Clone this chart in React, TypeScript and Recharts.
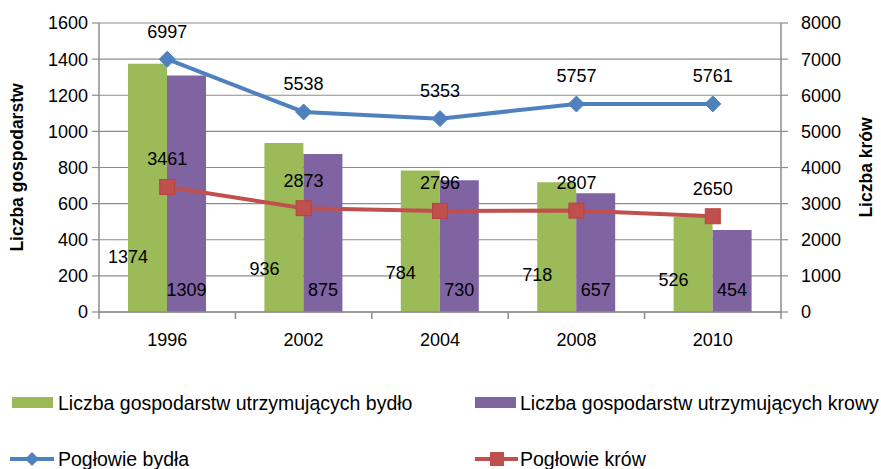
import React from 'react';
import {
  ComposedChart, Bar, Line, XAxis, YAxis, CartesianGrid, LabelList,
} from 'recharts';

const categories = ['1996', '2002', '2004', '2008', '2010'];
const farmsCattle = [1374, 936, 784, 718, 526];
const farmsCows = [1309, 875, 730, 657, 454];
const cattleHerd = [6997, 5538, 5353, 5757, 5761];
const cowHerd = [3461, 2873, 2796, 2807, 2650];
const leftTicks = [0, 200, 400, 600, 800, 1000, 1200, 1400, 1600];
const rightTicks = [0, 1000, 2000, 3000, 4000, 5000, 6000, 7000, 8000];

const seriesNames = [
  'Liczba gospodarstw utrzymujących bydło',
  'Liczba gospodarstw utrzymujących krowy',
  'Pogłowie bydła',
  'Pogłowie krów',
];
const leftTitle = 'Liczba gospodarstw';
const rightTitle = 'Liczba krów';

const data = categories.map((c, i) => ({
  year: c,
  farmsCattle: farmsCattle[i],
  farmsCows: farmsCows[i],
  cattleHerd: cattleHerd[i],
  cowHerd: cowHerd[i],
}));

const W = 881;
const H = 469;
const FONT = '"Liberation Sans", Arial, sans-serif';
const GREEN = '#9BBB59';
const PURPLE = '#8064A2';
const BLUE = '#4F81BD';
const RED = '#C0504D';
const GRAY = '#8C8C8C';
const PLOT_W = 682;
const HALF_BAND = PLOT_W / categories.length / 2;

const XTick = (props: any) => {
  const { x, y, payload, index } = props;
  return (
    <g>
      <line x1={x - HALF_BAND} x2={x - HALF_BAND} y1={y} y2={y + 7} stroke={GRAY} strokeWidth={1.5} />
      {index === categories.length - 1 && (
        <line x1={x + HALF_BAND} x2={x + HALF_BAND} y1={y} y2={y + 7} stroke={GRAY} strokeWidth={1.5} />
      )}
      <text x={x} y={y + 28} dy="0.35em" textAnchor="middle" fontFamily={FONT} fontSize={18} fill="#000">
        {payload.value}
      </text>
    </g>
  );
};

const Diamond = (props: any) => {
  const { cx, cy } = props;
  if (cx == null || cy == null) return null;
  const r = 8;
  return <polygon points={`${cx},${cy - r} ${cx + r},${cy} ${cx},${cy + r} ${cx - r},${cy}`} fill={BLUE} stroke={BLUE} strokeWidth={1} />;
};

const Square = (props: any) => {
  const { cx, cy } = props;
  if (cx == null || cy == null) return null;
  const s = 7.5;
  return <rect x={cx - s} y={cy - s} width={2 * s} height={2 * s} fill={RED} stroke="#B8433F" strokeWidth={1} />;
};

const lineLabel = (props: any) => {
  const { x, y, value } = props;
  return (
    <text x={x} y={y - 28} dy="0.35em" textAnchor="middle" fontFamily={FONT} fontSize={18} fill="#000">
      {value}
    </text>
  );
};

const greenLabel = (props: any) => {
  const { x, y, height, value } = props;
  const bottom = y + height;
  return (
    <text x={x} y={bottom - (18 + 0.15 * height)} dy="0.35em" textAnchor="middle" fontFamily={FONT} fontSize={18} fill="#000">
      {value}
    </text>
  );
};

const purpleLabel = (props: any) => {
  const { x, y, width, height, value } = props;
  const bottom = y + height;
  return (
    <text x={x + width / 2} y={bottom - 22} dy="0.35em" textAnchor="middle" fontFamily={FONT} fontSize={18} fill="#000">
      {value}
    </text>
  );
};

const LeftTitle = (props: any) => {
  const vb = props.viewBox || {};
  const cx = vb.x + 17;
  const cy = vb.y + vb.height / 2;
  return (
    <text x={cx} y={cy} dy="0.35em" textAnchor="middle" transform={`rotate(-90 ${cx} ${cy})`}
      fontFamily={FONT} fontSize={17.5} fontWeight="bold" fill="#000">
      {leftTitle}
    </text>
  );
};

const RightTitle = (props: any) => {
  const vb = props.viewBox || {};
  const cx = vb.x + 85;
  const cy = vb.y + vb.height / 2;
  return (
    <text x={cx} y={cy} dy="0.35em" textAnchor="middle" transform={`rotate(-90 ${cx} ${cy})`}
      fontFamily={FONT} fontSize={17.5} fontWeight="bold" fill="#000">
      {rightTitle}
    </text>
  );
};

const tickStyle = { fontFamily: FONT, fontSize: 18, fill: '#000' };

const LegendSvg = () => (
  <svg width={W} height={H} style={{ position: 'absolute', left: 0, top: 0, pointerEvents: 'none' }}>
    <rect x={12} y={397} width={41} height={11} fill={GREEN} />
    <text x={58} y={403} dy="0.35em" fontFamily={FONT} fontSize={19.5} fill="#000">{seriesNames[0]}</text>
    <rect x={475} y={397} width={41} height={11} fill={PURPLE} />
    <text x={520} y={403} dy="0.35em" fontFamily={FONT} fontSize={19.5} fill="#000">{seriesNames[1]}</text>
    <line x1={10} x2={54} y1={459} y2={459} stroke={BLUE} strokeWidth={4} />
    <polygon points="32,452 39,459 32,466 25,459" fill={BLUE} />
    <text x={58} y={459} dy="0.35em" fontFamily={FONT} fontSize={19.5} fill="#000">{seriesNames[2]}</text>
    <line x1={475} x2={518} y1={459} y2={459} stroke={RED} strokeWidth={4} />
    <rect x={490} y={452} width={14} height={14} fill={RED} />
    <text x={520} y={459} dy="0.35em" fontFamily={FONT} fontSize={19.5} fill="#000">{seriesNames[3]}</text>
  </svg>
);

export default function App() {
  return (
    <div style={{ position: 'absolute', left: 0, top: 0, width: W, height: H, background: '#fff' }}>
      <ComposedChart
        width={W}
        height={H}
        data={data}
        margin={{ top: 23, right: 0, bottom: 112, left: 0 }}
        barGap={0}
        barSize={39}
      >
        <CartesianGrid vertical={false} horizontal stroke={GRAY} strokeWidth={1.2} yAxisId="left" />
        <XAxis
          dataKey="year"
          height={45}
          tickSize={0}
          tickMargin={0}
          tickLine={false}
          axisLine={{ stroke: GRAY, strokeWidth: 1.5 }}
          tick={<XTick />}
          interval={0}
        />
        <YAxis
          yAxisId="left"
          orientation="left"
          width={99}
          domain={[0, 1600]}
          ticks={leftTicks}
          interval={0}
          tickSize={7}
          tickMargin={4}
          axisLine={{ stroke: GRAY, strokeWidth: 1.5 }}
          tickLine={{ stroke: GRAY, strokeWidth: 1.2 }}
          tick={tickStyle}
          label={<LeftTitle />}
        />
        <YAxis
          yAxisId="right"
          orientation="right"
          width={100}
          domain={[0, 8000]}
          ticks={rightTicks}
          interval={0}
          tickSize={7}
          tickMargin={13}
          axisLine={{ stroke: GRAY, strokeWidth: 1.5 }}
          tickLine={{ stroke: GRAY, strokeWidth: 1.2 }}
          tick={{ ...tickStyle, textAnchor: 'start' }}
          label={<RightTitle />}
        />
        <Bar yAxisId="left" dataKey="farmsCattle" name={seriesNames[0]} fill={GREEN} isAnimationActive={false}>
          <LabelList dataKey="farmsCattle" content={greenLabel} />
        </Bar>
        <Bar yAxisId="left" dataKey="farmsCows" name={seriesNames[1]} fill={PURPLE} isAnimationActive={false}>
          <LabelList dataKey="farmsCows" content={purpleLabel} />
        </Bar>
        <Line yAxisId="right" dataKey="cattleHerd" name={seriesNames[2]} stroke={BLUE} strokeWidth={4}
          dot={<Diamond />} activeDot={false} isAnimationActive={false}>
          <LabelList dataKey="cattleHerd" content={lineLabel} />
        </Line>
        <Line yAxisId="right" dataKey="cowHerd" name={seriesNames[3]} stroke={RED} strokeWidth={4}
          dot={<Square />} activeDot={false} isAnimationActive={false}>
          <LabelList dataKey="cowHerd" content={lineLabel} />
        </Line>
      </ComposedChart>
      <LegendSvg />
    </div>
  );
}
